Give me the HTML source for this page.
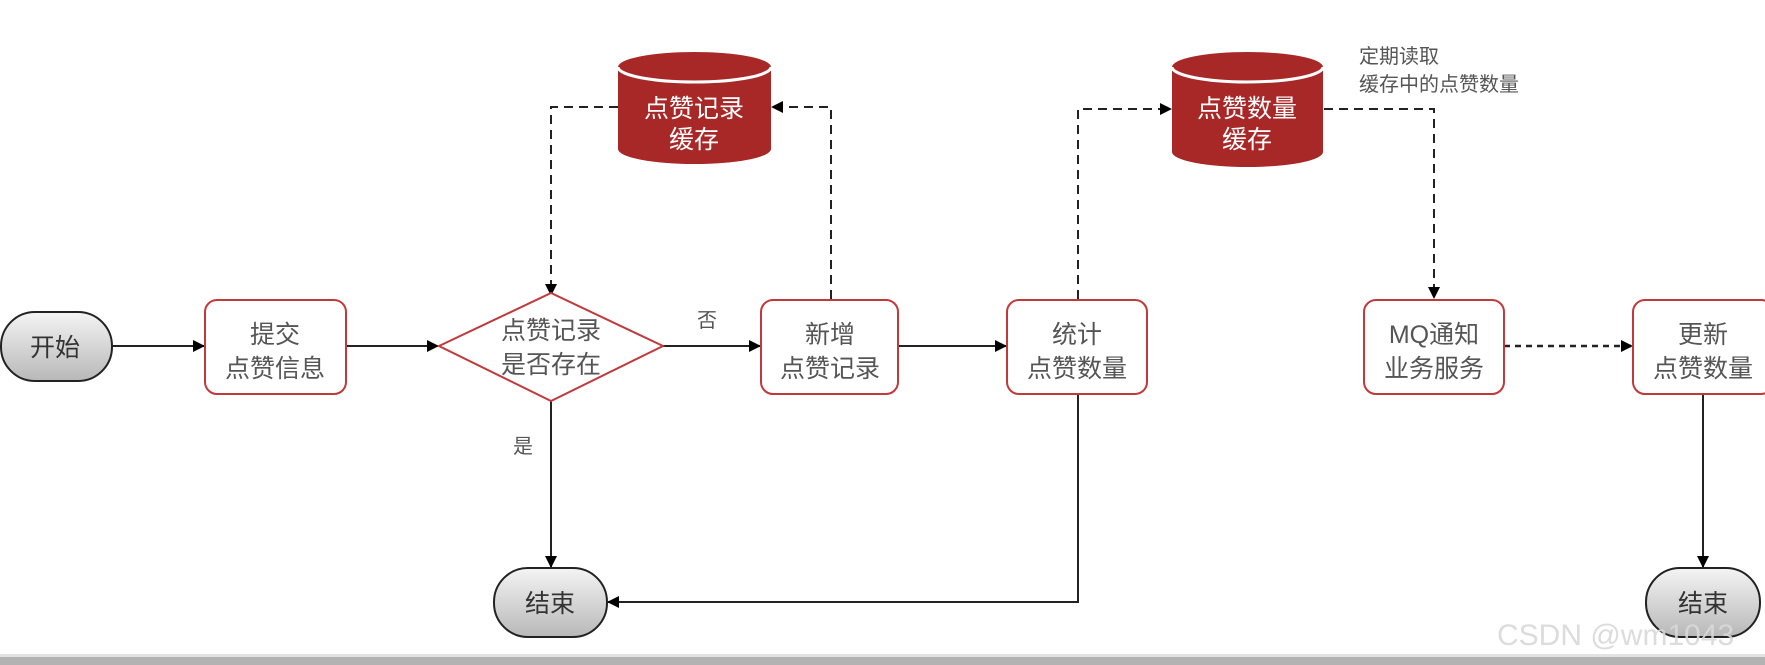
<!DOCTYPE html>
<html><head><meta charset="utf-8"><style>
html,body{margin:0;padding:0;background:#fff;}
svg{display:block;}
text{font-family:"Liberation Sans","Noto Sans CJK SC",sans-serif;}
</style></head><body>
<svg width="1765" height="665" viewBox="0 0 1765 665" xmlns="http://www.w3.org/2000/svg">
<defs>
<linearGradient id="g" x1="0" y1="0" x2="0" y2="1"><stop offset="0" stop-color="#f4f4f4"/><stop offset="1" stop-color="#b8b8b8"/></linearGradient>
<marker id="a" markerWidth="12" markerHeight="12" refX="11" refY="6" orient="auto" markerUnits="userSpaceOnUse"><path d="M0,0 L12,6 L0,12 z" fill="#000"/></marker>
</defs>
<rect x="0" y="654" width="1765" height="3" fill="#e2e2e2"/>
<rect x="0" y="657" width="1765" height="8" fill="#b2b2b2"/>

<!-- connectors -->
<g stroke="#222" stroke-width="2" fill="none">
<line x1="112" y1="346" x2="204" y2="346" marker-end="url(#a)"/>
<line x1="346" y1="346" x2="438" y2="346" marker-end="url(#a)"/>
<line x1="663" y1="346" x2="760" y2="346" marker-end="url(#a)"/>
<line x1="898" y1="346" x2="1006" y2="346" marker-end="url(#a)"/>
<line x1="551" y1="401" x2="551" y2="567" marker-end="url(#a)"/>
<polyline points="1078,394 1078,602 608,602" marker-end="url(#a)"/>
<line x1="1703" y1="394" x2="1703" y2="567" marker-end="url(#a)"/>
</g>
<g stroke="#222" stroke-width="2" fill="none" stroke-dasharray="9,6">
<polyline points="618,107 551,107 551,295" marker-end="url(#a)"/>
<polyline points="831,299 831,107 772,107" marker-end="url(#a)"/>
<polyline points="1078,299 1078,109 1171,109" marker-end="url(#a)"/>
<polyline points="1324,109 1434,109 1434,298" marker-end="url(#a)"/>
</g>
<line x1="1504" y1="346" x2="1632" y2="346" stroke="#222" stroke-width="2.5" stroke-dasharray="6,5" marker-end="url(#a)"/>

<!-- start/end -->
<rect x="1" y="312" width="111" height="69" rx="34" fill="url(#g)" stroke="#222" stroke-width="2"/>
<text x="55" y="356" font-size="25" text-anchor="middle" fill="#333">开始</text>
<rect x="494" y="568" width="113" height="69" rx="34" fill="url(#g)" stroke="#222" stroke-width="2"/>
<text x="550" y="612" font-size="25" text-anchor="middle" fill="#333">结束</text>
<rect x="1646" y="568" width="114" height="69" rx="34" fill="url(#g)" stroke="#222" stroke-width="2"/>
<text x="1703" y="612" font-size="25" text-anchor="middle" fill="#333">结束</text>

<!-- boxes -->
<g fill="#fff" stroke="#c0393b" stroke-width="2">
<rect x="205" y="300" width="141" height="94" rx="12"/>
<rect x="761" y="300" width="137" height="94" rx="12"/>
<rect x="1007" y="300" width="140" height="94" rx="12"/>
<rect x="1364" y="300" width="140" height="94" rx="12"/>
<rect x="1633" y="300" width="140" height="94" rx="12"/>
<polygon points="439,346 551,293 663,346 551,401"/>
</g>
<g font-size="25" text-anchor="middle" fill="#555">
<text x="275" y="343">提交</text><text x="275" y="377">点赞信息</text>
<text x="551" y="339">点赞记录</text><text x="551" y="373">是否存在</text>
<text x="830" y="343">新增</text><text x="830" y="377">点赞记录</text>
<text x="1077" y="343">统计</text><text x="1077" y="377">点赞数量</text>
<text x="1434" y="343">MQ通知</text><text x="1434" y="377">业务服务</text>
<text x="1703" y="343">更新</text><text x="1703" y="377">点赞数量</text>
</g>
<g font-size="20" fill="#555">
<text x="697" y="327">否</text>
<text x="513" y="453">是</text>
<text x="1359" y="63">定期读取</text>
<text x="1359" y="91">缓存中的点赞数量</text>
</g>

<!-- cylinders -->
<g>
<path d="M618,67 L618,149 A76.5,15 0 0 0 771,149 L771,67 A76.5,15 0 0 0 618,67 z" fill="#a82828"/>
<path d="M618,67 A76.5,15 0 0 0 771,67" fill="none" stroke="#fff" stroke-width="3"/>
<text x="694" y="117" font-size="25" text-anchor="middle" fill="#fff">点赞记录</text>
<text x="694" y="148" font-size="25" text-anchor="middle" fill="#fff">缓存</text>
<path d="M1172,67 L1172,152 A75.5,15 0 0 0 1323,152 L1323,67 A75.5,15 0 0 0 1172,67 z" fill="#a82828"/>
<path d="M1172,67 A75.5,15 0 0 0 1323,67" fill="none" stroke="#fff" stroke-width="3"/>
<text x="1247" y="117" font-size="25" text-anchor="middle" fill="#fff">点赞数量</text>
<text x="1247" y="148" font-size="25" text-anchor="middle" fill="#fff">缓存</text>
</g>

<text x="1497" y="645" font-size="30" fill="#d8d8d8" fill-opacity="0.9">CSDN @wm1043</text>
</svg>
</body></html>
